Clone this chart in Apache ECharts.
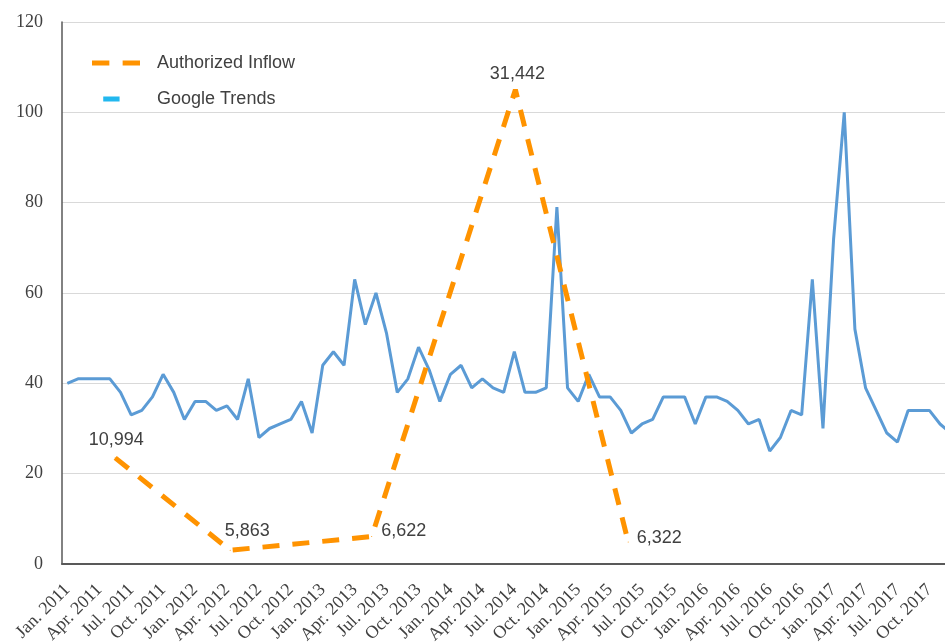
<!DOCTYPE html>
<html>
<head>
<meta charset="utf-8">
<script src="https://cdn.jsdelivr.net/npm/echarts@6/dist/echarts.min.js"></script>
<style>
  html, body { margin: 0; padding: 0; background: #ffffff; }
  #chart { width: 945px; height: 643px; }
</style>
</head>
<body>
<div id="chart"></div>
<script>
// Month names used for the category labels, e.g. "Jan. 2011"
const monthNames = ['Jan.', 'Feb.', 'Mar.', 'Apr.', 'May', 'Jun.', 'Jul.', 'Aug.', 'Sep.', 'Oct.', 'Nov.', 'Dec.'];
const years = [2011, 2012, 2013, 2014, 2015, 2016, 2017];

// Google Trends monthly index, Jan 2011 – Dec 2017
const trends2011 = [40, 41, 41, 41, 41, 38, 33, 34, 37, 42, 38, 32];
const trends2012 = [36, 36, 34, 35, 32, 41, 28, 30, 31, 32, 36, 29];
const trends2013 = [44, 47, 44, 63, 53, 60, 51, 38, 41, 48, 43, 36];
const trends2014 = [42, 44, 39, 41, 39, 38, 47, 38, 38, 39, 79, 39];
const trends2015 = [36, 42, 37, 37, 34, 29, 31, 32, 37, 37, 37, 31];
const trends2016 = [37, 37, 36, 34, 31, 32, 25, 28, 34, 33, 63, 30];
const trends2017 = [72, 100, 52, 39, 34, 29, 27, 34, 34, 34, 31, 29];

// Authorized inflow: position in months from Jan 2011, and amount
const inflowMonth = [4.5, 15.3, 28.6, 42.1, 52.7];
const inflowValue = [10994, 5863, 6622, 31442, 6322];

// Tick values of the visible y axis
const yTicks = [0, 20, 40, 60, 80, 100, 120];

const categories = [];
years.forEach(y => monthNames.forEach(m => categories.push(m + ' ' + y)));
const trends = [].concat(trends2011, trends2012, trends2013, trends2014, trends2015, trends2016, trends2017);

const labelPlacement = [
  { position: 'top', distance: 8, offset: [1, 0] },
  { position: 'top', distance: 10, offset: [17, 0] },
  { position: 'right', distance: 9, offset: [0, -6] },
  { position: 'top', distance: 6, offset: [2, 0] },
  { position: 'right', distance: 8, offset: [0, -4] }
];

const inflowData = inflowMonth.map((m, i) => ({
  value: [m, inflowValue[i]],
  label: labelPlacement[i]
}));

const SERIF = '"Liberation Serif", "Times New Roman", serif';
const SANS = '"Liberation Sans", Arial, Helvetica, sans-serif';

const chart = echarts.init(document.getElementById('chart'), null, { renderer: 'canvas' });

chart.setOption({
  animation: false,
  backgroundColor: '#ffffff',
  grid: { left: 62, right: -11, top: 22, bottom: 79, containLabel: false, outerBoundsMode: 'none' },
  legend: {
    orient: 'vertical',
    left: 92,
    top: 54,
    padding: 0,
    itemWidth: 48,
    itemHeight: 6,
    itemGap: 18,
    selectedMode: false,
    textStyle: { fontFamily: SANS, fontSize: 18, color: '#404040', padding: [0, 0, 0, 12], lineHeight: 18 },
    data: [
      { name: 'Authorized Inflow', icon: 'path://M0,0H17V5H0ZM30,0H47V5H30Z', itemStyle: { color: '#ff9300' } },
      { name: 'Google Trends', icon: 'path://M0,0L0,0ZM11,0H27V5H11ZM47,5L47,5Z', itemStyle: { color: '#22b8ef' } }
    ]
  },
  xAxis: [
    {
      type: 'category',
      data: categories,
      boundaryGap: true,
      axisLine: { show: true, onZero: false, lineStyle: { color: '#595959', width: 2 } },
      axisTick: { show: false },
      splitLine: { show: false },
      axisLabel: {
        interval: 2,
        rotate: 45,
        margin: 23,
        fontFamily: SERIF,
        fontSize: 18,
        color: '#404040'
      }
    },
    {
      type: 'value',
      min: -0.5,
      max: 83.5,
      show: false
    }
  ],
  yAxis: [
    {
      type: 'value',
      min: yTicks[0],
      max: yTicks[yTicks.length - 1],
      interval: 20,
      axisLine: { show: true, onZero: false, lineStyle: { color: '#595959', width: 1.5 } },
      axisTick: { show: false },
      splitLine: { show: true, lineStyle: { color: '#d9d9d9', width: 1 } },
      axisLabel: { fontFamily: SERIF, fontSize: 18, color: '#404040', margin: 19 }
    },
    {
      type: 'value',
      min: 5100,
      max: 35200,
      show: false,
      splitLine: { show: false }
    }
  ],
  series: [
    {
      name: 'Google Trends',
      type: 'line',
      data: trends,
      xAxisIndex: 0,
      yAxisIndex: 0,
      symbol: 'none',
      lineStyle: { color: '#5b9bd5', width: 3 },
      itemStyle: { color: '#5b9bd5' },
      z: 3
    },
    {
      name: 'Authorized Inflow',
      type: 'line',
      data: inflowData,
      xAxisIndex: 1,
      yAxisIndex: 1,
      symbol: 'circle',
      symbolSize: 1,
      showSymbol: true,
      lineStyle: { color: '#ff9300', width: 5, type: [17, 13], cap: 'butt' },
      itemStyle: { color: '#ff9300' },
      label: {
        show: true,
        fontFamily: SANS,
        fontSize: 18,
        color: '#404040',
        formatter: p => p.value[1].toLocaleString('en-US')
      },
      z: 4
    }
  ]
});
</script>
</body>
</html>
